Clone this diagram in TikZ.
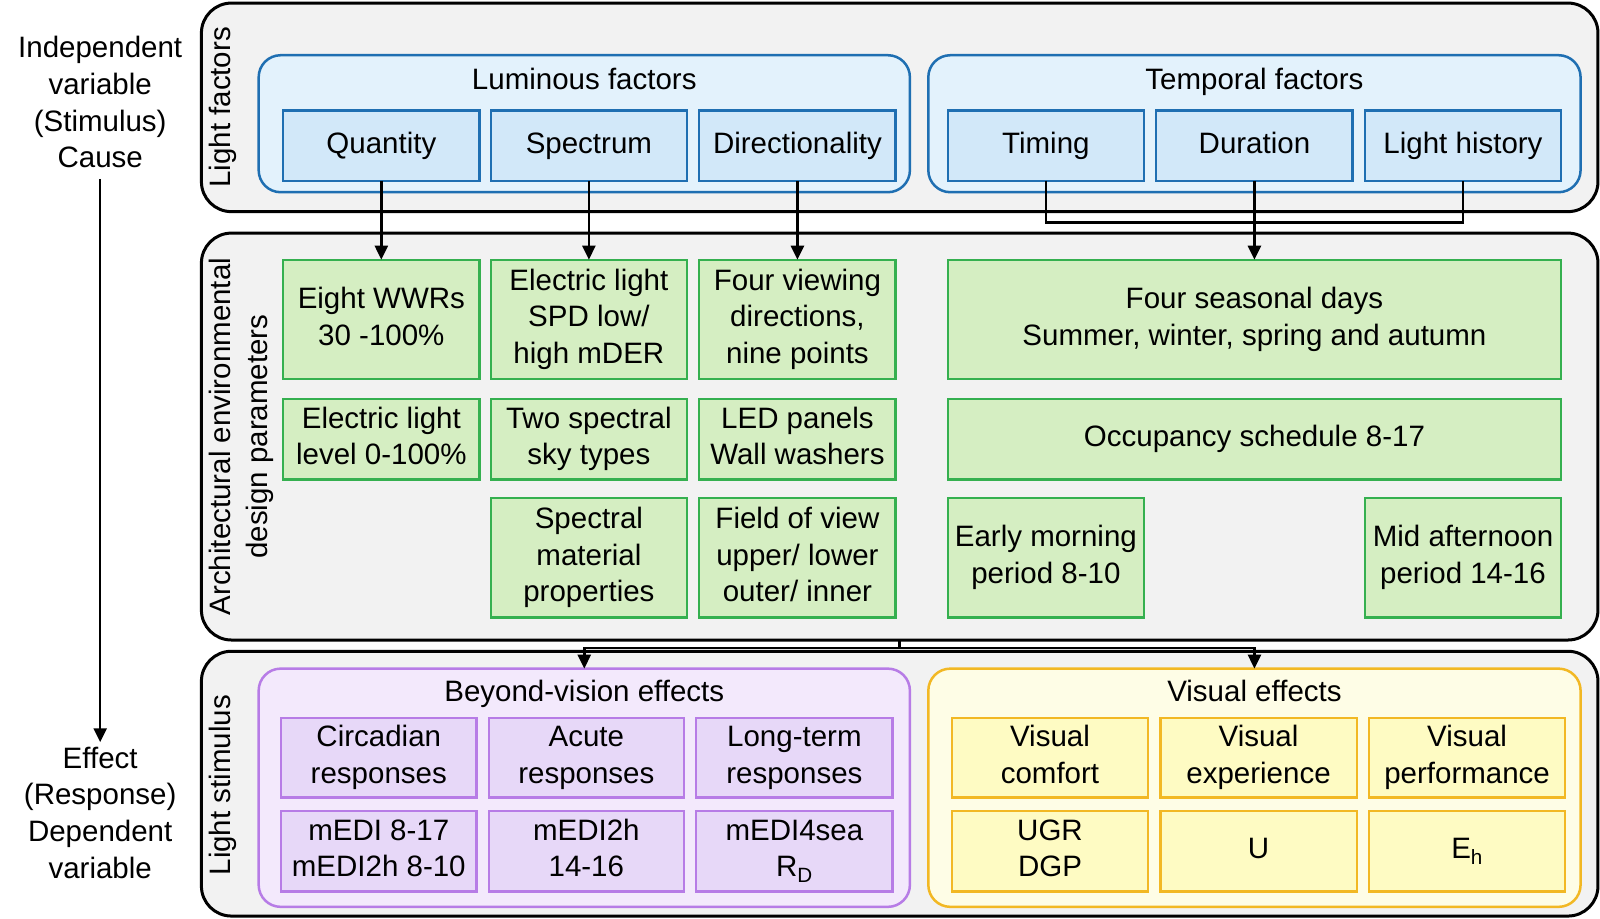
\documentclass[tikz,border=0pt]{standalone}
\usepackage{fontspec}
\setmainfont{Liberation Sans}
\usetikzlibrary{arrows.meta,fit}
\definecolor{panelfill}{HTML}{F2F2F2}
\definecolor{blueline}{HTML}{1F6FB2}
\definecolor{bluefr}{HTML}{E3F2FC}
\definecolor{bluebox}{HTML}{D2E8F9}
\definecolor{greenline}{HTML}{35B04F}
\definecolor{greenbox}{HTML}{D5EEC2}
\definecolor{purpline}{HTML}{B77CE6}
\definecolor{purpfr}{HTML}{F3E9FC}
\definecolor{purpbox}{HTML}{E7D8F8}
\definecolor{yelline}{HTML}{F2B824}
\definecolor{yelfr}{HTML}{FEFDE6}
\definecolor{yelbox}{HTML}{FEFBC3}
\newcommand\mkbox[5]{\node[#1, fit={(#2)(#3)}] (#4) {};
  \node (#4t) at (#4.center) {\strut#5\strut};}
\newcommand\mktext[3]{\node (#1) at (#2) {\strut#3\strut};}
\begin{document}
\begin{tikzpicture}[x=1.0224pt,y=-1.0224pt,
  every node/.style={font=\fontsize{29.5}{36.8}\selectfont, align=center, inner sep=0pt, outer sep=0pt},
  panel/.style={draw=black, line width=3pt, fill=panelfill, rounded corners=30pt},
  frame/.style={line width=2.5pt, rounded corners=22pt},
  lumfr/.style={frame, draw=blueline, fill=bluefr},
  bvfr/.style={frame, draw=purpline, fill=purpfr},
  visfr/.style={frame, draw=yelline, fill=yelfr},
  lbox/.style={line width=2.3pt, draw=blueline, fill=bluebox},
  gbox/.style={line width=2.3pt, draw=greenline, fill=greenbox},
  pbox/.style={line width=2.3pt, draw=purpline, fill=purpbox},
  ybox/.style={line width=2.3pt, draw=yelline, fill=yelbox},
  conn/.style={line width=2.5pt, draw=black},
  arr/.style={conn, -{Triangle[length=14pt,width=13pt]}}
]
\useasboundingbox (0,0) rectangle (1565,898);

% left axis
\mktext{cause}{98,103}{Independent\\variable\\(Stimulus)\\Cause}
\mktext{effect}{98,798}{Effect\\(Response)\\Dependent\\variable}
\draw[arr] (cause.south) -- (effect.north);

% panels
\node[panel, fit={(197,3)(1563,207)}] (p1) {};
\node[panel, fit={(197,228)(1563,626)}] (p2) {};
\node[panel, fit={(197,637)(1563,896)}] (p3) {};
\node[rotate=90] (lp1) at (218,105) {\strut Light factors\strut};
\node[rotate=90] (lp2) at (236.5,427) {\strut Architectural environmental\\design parameters\strut};
\node[rotate=90] (lp3) at (218,768) {\strut Light stimulus\strut};

% light factors
\node[lumfr, fit={(253,54)(890,188)}] (lum) {};
\node[lumfr, fit={(908,54)(1546,188)}] (temp) {};
\mktext{lumt}{571.5,80}{Luminous factors}
\mktext{tempt}{1227,80}{Temporal factors}
\mkbox{lbox}{277,108}{469,177}{qty}{Quantity}
\mkbox{lbox}{480,108}{672,177}{spec}{Spectrum}
\mkbox{lbox}{684,108}{876,177}{dir}{Directionality}
\mkbox{lbox}{927,108}{1119,177}{tim}{Timing}
\mkbox{lbox}{1131,108}{1323,177}{dur}{Duration}
\mkbox{lbox}{1335,108}{1527,177}{hist}{Light history}

% design parameters
\mkbox{gbox}{277,254}{469,371}{wwr}{Eight WWRs\\30 -100\%}
\mkbox{gbox}{480,254}{672,371}{spd}{Electric light\\SPD low/\\high mDER}
\mkbox{gbox}{684,254}{876,371}{view}{Four viewing\\directions,\\nine points}
\mkbox{gbox}{927,254}{1527,371}{seas}{Four seasonal days\\Summer, winter, spring and autumn}
\mkbox{gbox}{277,390}{469,469}{level}{Electric light\\level 0-100\%}
\mkbox{gbox}{480,390}{672,469}{sky}{Two spectral\\sky types}
\mkbox{gbox}{684,390}{876,469}{led}{LED panels\\Wall washers}
\mkbox{gbox}{927,390}{1527,469}{occ}{Occupancy schedule 8-17}
\mkbox{gbox}{480,487}{672,604}{mat}{Spectral\\material\\properties}
\mkbox{gbox}{684,487}{876,604}{fov}{Field of view\\upper/ lower\\outer/ inner}
\mkbox{gbox}{927,487}{1119,604}{early}{Early morning\\period 8-10}
\mkbox{gbox}{1335,487}{1527,604}{mid}{Mid afternoon\\period 14-16}

% light stimulus
\node[bvfr, fit={(253,654)(890,887)}] (bv) {};
\node[visfr, fit={(908,654)(1546,887)}] (ve) {};
\mktext{bvt}{571.5,679}{Beyond-vision effects}
\mktext{vet}{1227,679}{Visual effects}
\mkbox{pbox}{275,702}{466,780}{circ}{Circadian\\responses}
\mkbox{pbox}{478,702}{669,780}{acute}{Acute\\responses}
\mkbox{pbox}{681,702}{873,780}{long}{Long-term\\responses}
\mkbox{pbox}{275,793}{466,872}{m1}{mEDI 8-17\\mEDI2h 8-10}
\mkbox{pbox}{478,793}{669,872}{m2}{mEDI2h\\14-16}
\mkbox{pbox}{681,793}{873,872}{m3}{mEDI4sea\\R\textsubscript{D}}
\mkbox{ybox}{931,702}{1123,780}{vc}{Visual\\comfort}
\mkbox{ybox}{1135,702}{1327,780}{vx}{Visual\\experience}
\mkbox{ybox}{1339,702}{1531,780}{vp}{Visual\\performance}
\mkbox{ybox}{931,793}{1123,872}{ugr}{UGR\\DGP}
\mkbox{ybox}{1135,793}{1327,872}{uu}{U}
\mkbox{ybox}{1339,793}{1531,872}{eh}{E\textsubscript{h}}

% connectors
\draw[arr] (qty.south) -- (wwr.north);
\draw[arr] (spec.south) -- (spd.north);
\draw[arr] (dir.south) -- (view.north);
\draw[conn] (tim.south) -- ++(0,40.5) -| (hist.south);
\draw[arr] (dur.south) -- (seas.north);
\draw[conn] (p2.south) -- ++(0,8) coordinate (j);
\draw[arr] (j) -| (bv.north);
\draw[arr] (j) -| (ve.north);
\end{tikzpicture}
\end{document}
